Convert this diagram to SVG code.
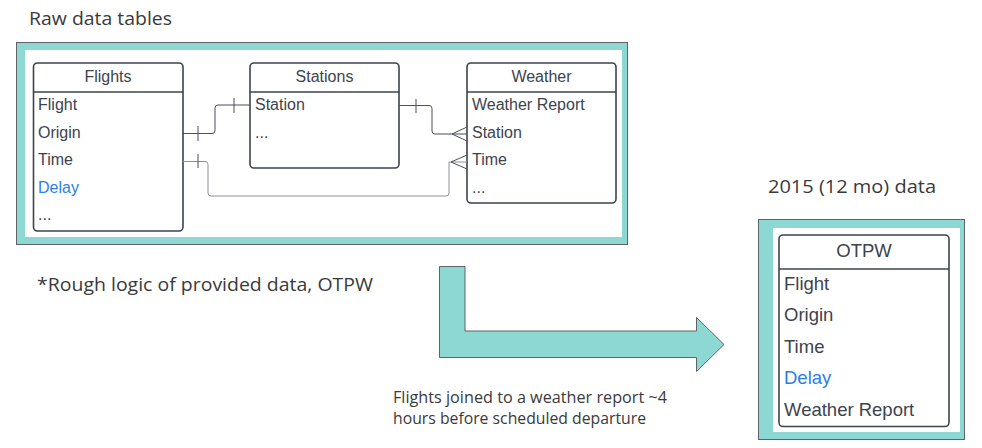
<svg xmlns="http://www.w3.org/2000/svg" width="982" height="448" viewBox="0 0 982 448">
<style>
.label{font-family:"Open Sans","Liberation Sans",sans-serif;fill:#3a3a3a}
.t{font-family:"Liberation Sans",Arial,sans-serif;font-size:16px;fill:#3d434d}
.t2{font-family:"Liberation Sans",Arial,sans-serif;font-size:18.5px;fill:#3d434d}
.blue{fill:#2d7ee8}
.tbl{fill:#fff;stroke:#3d434d;stroke-width:1.6}
.hdr{stroke:#3d434d;stroke-width:1.4}
.teal{fill:#8dd8d2;stroke:#5f6368;stroke-width:1}
.conn{fill:none;stroke:#4a4f58;stroke-width:1}
.conn2{fill:none;stroke:#8c9096;stroke-width:1}
</style>
<rect width="982" height="448" fill="#fff"/>
<text class="label" x="29" y="24.5" font-size="19" textLength="143" lengthAdjust="spacingAndGlyphs">Raw data tables</text>
<text class="label" x="37" y="290.5" font-size="19" textLength="336" lengthAdjust="spacingAndGlyphs">*Rough logic of provided data, OTPW</text>
<text class="label" x="768" y="192.5" font-size="19" textLength="168" lengthAdjust="spacingAndGlyphs">2015 (12 mo) data</text>
<text class="label" x="393" y="403" font-size="15.5" textLength="274" lengthAdjust="spacingAndGlyphs">Flights joined to a weather report ~4</text>
<text class="label" x="393" y="423.5" font-size="15.5" textLength="253" lengthAdjust="spacingAndGlyphs">hours before scheduled departure</text>

<g id="raw-frame">
<rect class="teal" x="16.5" y="42.5" width="611" height="202"/>
<rect x="25" y="50" width="597" height="187" fill="#fff"/>
</g>

<g id="flights">
<rect class="tbl" x="33.5" y="63" width="149.5" height="168" rx="4"/>
<line class="hdr" x1="33.5" y1="92" x2="183" y2="92"/>
<text class="t" x="108" y="81.5" text-anchor="middle">Flights</text>
<text class="t" x="38" y="110">Flight</text>
<text class="t" x="38" y="137.5">Origin</text>
<text class="t" x="38" y="165">Time</text>
<text class="t blue" x="38" y="192.5">Delay</text>
<text class="t" x="38" y="220">...</text>
</g>

<g id="stations">
<rect class="tbl" x="250" y="63" width="149" height="105" rx="4"/>
<line class="hdr" x1="250" y1="92" x2="399" y2="92"/>
<text class="t" x="324.5" y="81.5" text-anchor="middle">Stations</text>
<text class="t" x="255" y="110">Station</text>
<text class="t" x="255" y="137.5">...</text>
</g>

<g id="weather">
<rect class="tbl" x="467" y="63" width="149" height="140" rx="4"/>
<line class="hdr" x1="467" y1="92" x2="616" y2="92"/>
<text class="t" x="541.5" y="81.5" text-anchor="middle">Weather</text>
<text class="t" x="472" y="110">Weather Report</text>
<text class="t" x="472" y="137.5">Station</text>
<text class="t" x="472" y="165">Time</text>
<text class="t" x="472" y="192.5">...</text>
</g>

<g id="connectors">
<path class="conn" d="M183 133.5 H212 Q215 133.5 215 130.5 V108 Q215 105 218 105 H250"/>
<line class="conn" x1="198" y1="126" x2="198" y2="141"/>
<line class="conn" x1="234" y1="98" x2="234" y2="113"/>

<path class="conn" d="M399 105.5 H429 Q432 105.5 432 108.5 V131 Q432 134 435 134 H467"/>
<line class="conn" x1="416" y1="99" x2="416" y2="113"/>
<path class="conn" d="M467 127 L452 134 L467 141"/>

<path class="conn2" d="M183 161.5 H205 Q208 161.5 208 164.5 V193 Q208 196 211 196 H446 Q449 196 449 193 V162 H467"/>
<line class="conn" x1="198" y1="154" x2="198" y2="168"/>
<path class="conn" d="M467 155 L451 162 L467 169"/>
</g>

<g id="join-arrow">
<path class="teal" d="M439.5 266.5 H465 V331 H696.5 V317.5 L724 344.5 L696.5 371.5 V357.5 H439.5 Z"/>
</g>

<g id="otpw-frame">
<rect class="teal" x="758.5" y="219.5" width="206" height="220"/>
<rect x="773" y="228" width="187" height="204" fill="#fff"/>
</g>

<g id="otpw">
<rect class="tbl" x="779" y="235" width="170" height="191.5" rx="4"/>
<line class="hdr" x1="779" y1="269" x2="949" y2="269"/>
<text class="t2" x="864" y="257" text-anchor="middle">OTPW</text>
<text class="t2" x="784" y="289.5">Flight</text>
<text class="t2" x="784" y="321">Origin</text>
<text class="t2" x="784" y="352.5">Time</text>
<text class="t2 blue" x="784" y="384">Delay</text>
<text class="t2" x="784" y="415.5">Weather Report</text>
</g>
</svg>
